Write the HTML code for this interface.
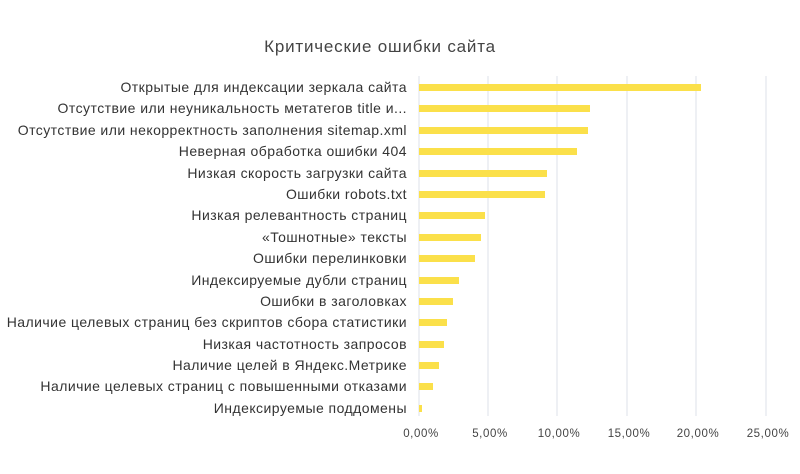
<!DOCTYPE html><html><head><meta charset="utf-8"><style>body{margin:0;background:#fff}</style></head><body>
<svg width="800" height="469" xmlns="http://www.w3.org/2000/svg" font-family="Liberation Sans, sans-serif">
<text x="380" y="52" text-anchor="middle" font-size="17" letter-spacing="0.8" fill="#444">Критические ошибки сайта</text>
<g stroke="#dde0e8" stroke-width="1">
<line x1="419" y1="76" x2="419" y2="416"/><line x1="488" y1="76" x2="488" y2="416"/><line x1="557" y1="76" x2="557" y2="416"/><line x1="627" y1="76" x2="627" y2="416"/><line x1="696" y1="76" x2="696" y2="416"/><line x1="766" y1="76" x2="766" y2="416"/>
</g>
<g font-size="11.5" letter-spacing="0.6" fill="#444" text-anchor="middle">
<text x="421" y="437">0,00%</text><text x="490" y="437">5,00%</text><text x="559" y="437">10,00%</text><text x="629" y="437">15,00%</text><text x="698" y="437">20,00%</text><text x="768" y="437">25,00%</text>
</g>
<g fill="#fbe04a">
<rect x="419" y="84" width="282" height="7"/>
<rect x="419" y="105" width="171" height="7"/>
<rect x="419" y="127" width="169" height="7"/>
<rect x="419" y="148" width="158" height="7"/>
<rect x="419" y="170" width="128" height="7"/>
<rect x="419" y="191" width="126" height="7"/>
<rect x="419" y="212" width="66" height="7"/>
<rect x="419" y="234" width="62" height="7"/>
<rect x="419" y="255" width="56" height="7"/>
<rect x="419" y="277" width="40" height="7"/>
<rect x="419" y="298" width="34" height="7"/>
<rect x="419" y="319" width="28" height="7"/>
<rect x="419" y="341" width="25" height="7"/>
<rect x="419" y="362" width="20" height="7"/>
<rect x="419" y="383" width="14" height="7"/>
<rect x="419" y="405" width="3" height="7"/>
</g>
<g font-size="14" letter-spacing="0.45" fill="#333" text-anchor="end">
<text x="407" y="92">Открытые для индексации зеркала сайта</text>
<text x="407" y="113">Отсутствие или неуникальность метатегов title и...</text>
<text x="407" y="135">Отсутствие или некорректность заполнения sitemap.xml</text>
<text x="407" y="156">Неверная обработка ошибки 404</text>
<text x="407" y="178">Низкая скорость загрузки сайта</text>
<text x="407" y="199">Ошибки robots.txt</text>
<text x="407" y="220">Низкая релевантность страниц</text>
<text x="407" y="242">«Тошнотные» тексты</text>
<text x="407" y="263">Ошибки перелинковки</text>
<text x="407" y="285">Индексируемые дубли страниц</text>
<text x="407" y="306">Ошибки в заголовках</text>
<text x="407" y="327">Наличие целевых страниц без скриптов сбора статистики</text>
<text x="407" y="349">Низкая частотность запросов</text>
<text x="407" y="370">Наличие целей в Яндекс.Метрике</text>
<text x="407" y="391">Наличие целевых страниц с повышенными отказами</text>
<text x="407" y="413">Индексируемые поддомены</text>
</g>
</svg>
</body></html>
